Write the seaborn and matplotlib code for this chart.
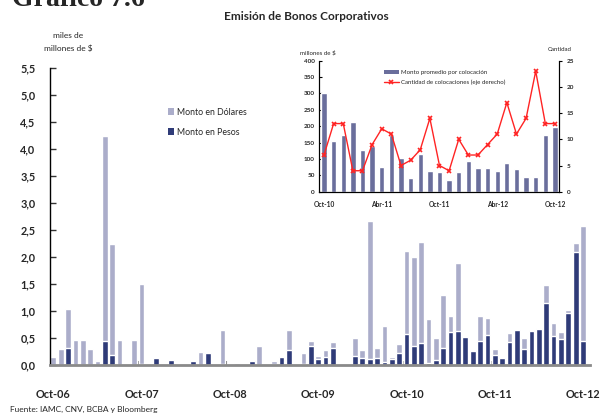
import numpy as np
import pandas as pd
import matplotlib
matplotlib.use("Agg")
import matplotlib.pyplot as plt
import seaborn as sns
from matplotlib.patches import Patch
from matplotlib.lines import Line2D

# ---------------- data ----------------
# Monthly issuance Oct-06 .. Oct-12 (73 months), miles de millones de $
pesos = [0, 0, 0.32, 0, 0, 0, 0, 0.45, 0.19, 0, 0, 0, 0.02,
         0, 0.13, 0, 0.09, 0, 0, 0.07, 0, 0.22, 0, 0.02,
         0, 0, 0, 0.08, 0, 0.02, 0.02, 0.15, 0.28, 0, 0.02, 0.35,
         0.11, 0.15, 0.32, 0, 0.02, 0.17, 0.13, 0.11, 0.13, 0.06, 0.11, 0.22,
         0.57, 0.35, 0.41, 0.04, 0.09, 0.31, 0.61, 0.63, 0.52, 0.26, 0.44, 0.56,
         0.19, 0.13, 0.43, 0.65, 0.30, 0.63, 0.67, 1.15, 0.54, 0.48, 0.96, 2.09,
         0.44]
dolares = [0.15, 0.30, 0.72, 0.47, 0.47, 0.30, 0.08, 3.79, 2.05, 0.47, 0.02, 0.47, 1.48,
           0, 0, 0, 0, 0, 0, 0.02, 0.24, 0, 0.02, 0.63,
           0, 0.04, 0, 0, 0.35, 0, 0.05, 0.02, 0.37, 0, 0.20, 0.09,
           0.06, 0.13, 0.11, 0.01, 0, 0.33, 0.15, 2.56, 0.19, 0.66, 0.04, 0.17,
           1.54, 1.65, 1.87, 0.81, 0.41, 0.99, 0.30, 1.26, 0, 0, 0.47, 0.31,
           0.11, 0, 0.16, 0, 0.20, 0.02, 0.02, 0.33, 0.24, 0.13, 0.06, 0.17,
           2.13]
main_xlabels = ["Oct-06", "Oct-07", "Oct-08", "Oct-09", "Oct-10", "Oct-11", "Oct-12"]
main_yticks = [0, 0.5, 1.0, 1.5, 2.0, 2.5, 3.0, 3.5, 4.0, 4.5, 5.0, 5.5]

# Inset: Oct-10 .. Oct-12 (25 months)
monto_promedio = [302, 155, 173, 213, 127, 140, 76, 172, 103, 42, 116, 63, 60,
                  36, 60, 94, 72, 72, 63, 88, 69, 45, 45, 173, 197]
cantidad = [7, 13, 13, 4, 4, 9, 12, 11, 5, 6, 8, 14, 5,
            4, 10, 7, 7, 9, 11, 17, 11, 14, 23, 13, 13]
inset_xlabels = ["Oct-10", "Abr-11", "Oct-11", "Abr-12", "Oct-12"]

# ---------------- style ----------------
sns.set_theme(style="white")
plt.rcParams["font.family"] = ["Lato", "DejaVu Sans"]

LIGHT = "#abadca"
DARK = "#2f3b78"
INSET_BAR = "#6a6e9c"
RED = "#ff2424"

fig = plt.figure(figsize=(6.01, 4.17), dpi=100)

n = len(pesos)
df = pd.DataFrame({
    "mes": np.arange(n),
    "total": np.array(pesos) + np.array(dolares),
    "pesos": pesos,
})

ax = fig.add_axes([50 / 601, 52 / 417, 540 / 601, 297 / 417])
sns.barplot(data=df, x="mes", y="total", color=LIGHT, width=0.78,
            saturation=1, ax=ax, label="Monto en Dólares", legend=False)
sns.barplot(data=df, x="mes", y="pesos", color=DARK, width=0.78,
            saturation=1, ax=ax, label="Monto en Pesos", legend=False)

ax.set_xlim(-0.45, n - 1 + 0.95)
ax.set_ylim(0, 5.5)
ax.set_xlabel("")
ax.set_ylabel("")
ax.set_yticks(main_yticks)
ax.set_yticklabels([f"{v:.1f}".replace(".", ",") for v in main_yticks],
                   fontsize=7.8, fontweight="bold")
ax.set_xticks(np.arange(0, n, 12))
ax.set_xticklabels(main_xlabels, fontsize=7.8, fontweight="bold")
ax.set_xticks(np.arange(11.5, n, 12), minor=True)
ax.tick_params(axis="x", which="major", length=0, pad=17)
ax.tick_params(axis="x", which="minor", direction="in", length=3,
               width=1.5, color="#777777", bottom=True)
ax.tick_params(axis="y", direction="in", length=4, width=1,
               color="#333333", left=True, pad=10.5)
for s in ["top", "right"]:
    ax.spines[s].set_visible(False)
ax.spines["left"].set_color("black")
ax.spines["left"].set_linewidth(1.0)
ax.spines["bottom"].set_color("#8a8a8a")
ax.spines["bottom"].set_linewidth(2.0)

handles = [Patch(facecolor=LIGHT, edgecolor="none", label="Monto en Dólares"),
           Patch(facecolor=DARK, edgecolor="none", label="Monto en Pesos")]
fig.legend(handles=handles, loc="upper left", bbox_to_anchor=(160 / 601, 1 - 100 / 417),
           frameon=False, fontsize=6.3, handlelength=0.75, handleheight=0.9,
           handletextpad=0.3, labelspacing=1.25)

# ---------------- inset ----------------
ni = len(monto_promedio)
dfi = pd.DataFrame({"mes": np.arange(ni), "monto": monto_promedio,
                    "cant": cantidad})
axi = fig.add_axes([319 / 601, 1 - 191.7 / 417, 240 / 601, 131 / 417])
sns.barplot(data=dfi, x="mes", y="monto", color=INSET_BAR, width=0.55,
            saturation=1, ax=axi)
axi.set_xlim(-0.52, ni - 1 + 0.42)
axi.set_ylim(0, 400)
axi.set_yticks(np.arange(0, 401, 50))
axi.set_yticklabels([str(v) for v in range(0, 401, 50)], fontsize=4.6,
                    fontweight="bold")
axi.set_xticks(np.arange(0, ni, 6))
axi.set_xticklabels(inset_xlabels, fontsize=4.8, fontweight="bold")
axi.set_xlabel("")
axi.set_ylabel("")
axi.tick_params(axis="x", length=0, pad=7)
axi.tick_params(axis="y", direction="in", length=2.5, width=0.8,
                color="black", left=True, pad=3)
axi.spines["top"].set_visible(False)
for s in ["left", "right", "bottom"]:
    axi.spines[s].set_color("black")
    axi.spines[s].set_linewidth(0.8)
axi.patch.set_alpha(0)

axr = axi.twinx()
sns.lineplot(data=dfi, x="mes", y="cant", color=RED, lw=1.0, marker="x",
             markersize=3.5, markeredgewidth=1.2, markeredgecolor=RED, ax=axr)
axr.set_ylim(0, 25)
axr.set_yticks(np.arange(0, 26, 5))
axr.set_yticklabels([str(v) for v in range(0, 26, 5)], fontsize=4.6,
                    fontweight="bold")
axr.set_ylabel("")
axr.set_xlabel("")
axr.tick_params(axis="y", direction="out", length=2.5, width=0.8,
                color="black", right=True, pad=3)
axr.spines["top"].set_visible(False)
for s in ["left", "right", "bottom"]:
    axr.spines[s].set_color("black")
    axr.spines[s].set_linewidth(0.8)

ih = [Patch(facecolor=INSET_BAR, edgecolor="none",
            label="Monto promedio por colocación"),
      Line2D([0], [0], color=RED, lw=1.0, marker="x", markersize=3.5,
             markeredgewidth=1.2, label="Cantidad de colocaciones (eje derecho)")]
fig.legend(handles=ih, loc="upper left", bbox_to_anchor=(378 / 601, 1 - 64 / 417),
           frameon=False, fontsize=4.4, handlelength=2.6, handleheight=0.8,
           handletextpad=0.3, labelspacing=0.75)

fig.text(300 / 601, 1 - 53 / 417, "millones de $", fontsize=4.4, va="center", ha="left")
fig.text(572 / 601, 1 - 49.5 / 417, "Cantidad", fontsize=4.4, va="center", ha="right")

# ---------------- texts ----------------
fig.text(12 / 601, 1 - 6 / 417, "Gráfico 7.6", fontsize=20, fontweight="bold",
         family="Liberation Serif", va="baseline", ha="left")
fig.text(306 / 601, 1 - 16 / 417, "Emisión de Bonos Corporativos", fontsize=8.5,
         fontweight="bold", ha="center", va="center")
fig.text(68 / 601, 1 - 35 / 417, "miles de", fontsize=6, ha="center", va="center")
fig.text(68 / 601, 1 - 48 / 417, "millones de $", fontsize=6, ha="center", va="center")
fig.text(10 / 601, 1 - 409 / 417, "Fuente: IAMC, CNV, BCBA y Bloomberg", fontsize=6,
         ha="left", va="center")

fig.savefig("out.png", dpi=100)
